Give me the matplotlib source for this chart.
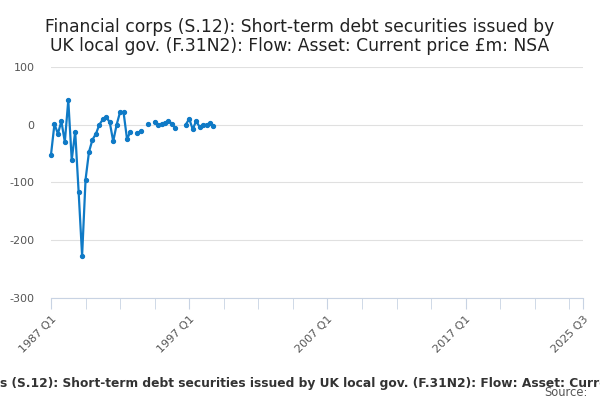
import numpy as np
import matplotlib.pyplot as plt

# quarters 1987 Q1 .. 2025 Q3
years = list(range(1987, 2026))
quarters = []
for y in years:
    for q in range(1, 5):
        quarters.append(str(y) + " Q" + str(q))
quarters = quarters[:quarters.index("2025 Q3") + 1]

# values (None = no data)
values = [-52, 1, -16, 6, -30, 42, -61, -12, -117, -227,
          -95, -47, -26, -16, 0, 9, 13, 4, -29, 0,
          22, 21, -25, -12, None, -15, -11, None, 1, None,
          5, -1, 1, 2, 7, 1, -6, None, None, 0,
          10, -8, 6, -4, -1, 0, 2, -2]

tick_labels = ["1987 Q1", "1997 Q1", "2007 Q1", "2017 Q1", "2025 Q3"]
y_ticks = [100, 0, -100, -200, -300]

title = "Financial corps (S.12): Short-term debt securities issued by\nUK local gov. (F.31N2): Flow: Asset: Current price £m: NSA"
footer = "Financial corps (S.12): Short-term debt securities issued by UK local gov. (F.31N2): Flow: Asset: Current price £m: NSA"

y = np.full(len(quarters), np.nan)
for i, v in enumerate(values):
    if v is not None:
        y[i] = v
x = np.arange(len(quarters))

fig = plt.figure(figsize=(6, 4), dpi=100)
ax = fig.add_axes([0.085, 0.255, 0.887, 0.578])

ax.plot(x, y, color="#0f7ac6", lw=1.6, marker="o", markersize=2.8, zorder=3, clip_on=False)

ax.set_xlim(0, len(quarters) - 1)
ax.set_ylim(-300, 100)
ax.set_yticks(y_ticks)
ax.set_yticklabels([str(t) for t in y_ticks])
ax.grid(axis="y", color="#e0e0e0", lw=0.8)
ax.set_axisbelow(True)

ax.set_xticks(range(0, len(quarters), 10), minor=True)
ax.set_xticks([quarters.index(t) for t in tick_labels])
ax.set_xticklabels(tick_labels, rotation=45, ha="right", rotation_mode="anchor")

for s in ["top", "right", "left"]:
    ax.spines[s].set_visible(False)
ax.spines["bottom"].set_color("#c8d3e3")
ax.tick_params(axis="x", which="both", color="#c8d3e3", length=8, labelsize=8, labelcolor="#555555")
ax.tick_params(axis="y", length=0, labelsize=8, labelcolor="#555555", pad=12)

fig.text(0.5, 0.955, title, ha="center", va="top", fontsize=12.3, color="#222222", linespacing=1.1)
fig.text(0.523, 0.04, footer, ha="center", va="center", fontsize=8.8, fontweight="bold", color="#333333")
fig.text(0.98, 0.02, "Source:", ha="right", va="center", fontsize=8.3, color="#555555")

fig.savefig("out.png", dpi=100)
